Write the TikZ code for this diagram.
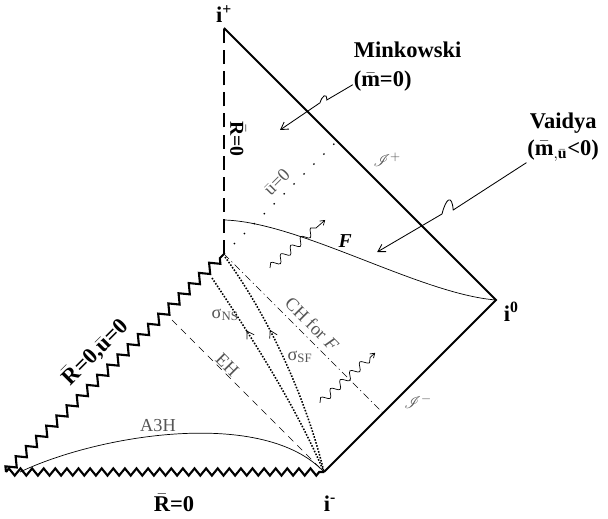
\documentclass[tikz,border=0pt]{standalone}
\usepackage{fontspec}
\setmainfont{Liberation Serif}
\usepackage{amsmath}
\usepackage{mathrsfs}
\usetikzlibrary{arrows.meta,decorations.pathmorphing,decorations.markings,calc}
\definecolor{labelgray}{HTML}{555555}

\begin{document}
\begin{tikzpicture}[
  edge/.style={line width=1.3pt},
  singleft/.style={line width=1.5pt,decorate,decoration={zigzag,segment length=3.6mm,amplitude=1.1mm}},
  singbot/.style={line width=1.5pt,decorate,decoration={zigzag,segment length=2.9mm,amplitude=0.9mm}},
  origin/.style={line width=1.2pt,dash pattern=on 10pt off 5pt},
  thinline/.style={line width=0.5pt},
  sparse/.style={line width=1pt,dash pattern=on 1pt off 9pt},
  chline/.style={line width=0.5pt,dash pattern=on 5pt off 2.5pt on 0.8pt off 2.5pt},
  ehline/.style={line width=0.5pt,dash pattern=on 5pt off 4pt},
  dense/.style={line width=1.1pt,dash pattern=on 1.1pt off 1.1pt},
  flowmark/.style={postaction={decorate},decoration={markings,
      mark=at position #1 with {\arrowreversed{Straight Barb[line width=0.5pt,length=5pt,width=6pt]}}}},
  wavy/.style={line width=0.5pt,decorate,
      decoration={snake,amplitude=0.9mm,segment length=3.3mm,post length=1.5mm},
      -{Straight Barb[length=3pt,width=4pt]}},
  pointer/.style={line width=0.6pt,-{Straight Barb[length=5pt,width=6pt]}},
  bold/.style={font=\fontsize{16}{21}\selectfont\bfseries},
  graylabel/.style={labelgray,font=\fontsize{13}{15}\selectfont},
]
  \useasboundingbox (0,0) rectangle (15.2,12.95);
  % corners of the diagram
  \coordinate (ip) at (5.6,12.25);
  \coordinate (izero) at (12.4,5.45);
  \coordinate (im) at (8.1,1.15);
  \coordinate (bl) at (0.15,1.15);
  \coordinate (zs) at (5.6,6.6);
  \coordinate (fstart) at (5.6,7.45);
  \coordinate (uend) at (8.5,9.5);
  \coordinate (chend) at (9.575,2.625);
  \coordinate (ehstart) at (4.3,4.95);

  % boundaries
  \draw[edge] (ip) -- (izero) -- (im);
  \draw[singleft] (bl) -- (zs);
  \draw[singbot] (bl) -- (im);
  \draw[origin] (zs) -- (ip);

  % interior lines
  \draw[thinline] (fstart) .. controls (7.5,7.4) and (10.5,5.6) .. (izero);
  \draw[sparse] (zs) -- (uend);
  \draw[chline] (zs) -- (chend);
  \draw[ehline] (ehstart) -- (im);
  \draw[dense,flowmark=0.28] (5.3,6.0) .. controls (6.1,4.8) and (7.3,3.0) .. (im);
  \draw[dense,flowmark=0.36] (5.625,6.525) .. controls (6.6,5.2) and (7.6,3.2) .. (im);
  \draw[thinline] (0.5,1.15) .. controls (2.5,2.1) and (6.6,2.75) .. (im);

  % radiation
  \coordinate (wa) at (6.75,6.25);
  \coordinate (wb) at (8.13,7.45);
  \coordinate (wc) at (8.0,2.88);
  \coordinate (wd) at (9.38,4.13);
  \draw[wavy] (wa) -- (wb);
  \draw[wavy] (wc) -- (wd);

  % labels
  \node[bold] (iplus) at (5.6,12.6) {i\textsuperscript{+}};
  \node[bold] (izerolab) at (12.78,5.15) {i\textsuperscript{0}};
  \node[bold] (iminus) at (8.25,0.35) {i\textsuperscript{-}};
  \node[bold] (rbot) at (4.35,0.38) {$\bar{\textbf{R}}$=0};
  \node[bold,rotate=45] (rsing) at (2.37,4.15) {$\bar{\textbf{R}}$=0,$\bar{\textbf{u}}$=0};
  \node[bold,font=\fontsize{14}{17}\selectfont\bfseries,rotate=-90] (rax) at (5.95,9.47) {$\bar{\textbf{R}}$=0};
  \node[graylabel,rotate=45] (ulab) at (6.92,8.4) {$\bar{\text{u}}$=0};
  \node[font=\fontsize{14}{16}\selectfont\bfseries\itshape] (flab) at (8.63,6.92) {F};
  \node[graylabel,rotate=-45] (chlab) at (7.8,4.85) {CH for \textit{F}};
  \node[graylabel,rotate=-45] (ehlab) at (5.68,3.83) {EH};
  \node[graylabel] (nslab) at (5.63,5.08) {σ\textsubscript{NS}};
  \node[graylabel] (sflab) at (7.5,4.03) {σ\textsubscript{SF}};
  \node[graylabel] (ahlab) at (3.95,2.3) {A3H};
  \node[graylabel] (scriplus) at (9.68,8.95) {$\mathscr{I}^{+}$};
  \node[graylabel] (scriminus) at (10.45,2.9) {$\mathscr{I}^{-}$};

  \node[bold,align=left,anchor=west] (mink) at (8.72,11.28) {Minkowski\\($\bar{\textbf{m}}$=0)};
  \node[bold,align=center] (vaidya) at (14.08,9.52) {Vaidya\\[-2pt]($\bar{\textbf{m}}_{,\bar{\textbf{u}}}$<0)};

  % pointers
  \coordinate (minkpt) at (7.0,9.7);
  \coordinate (vaidpt) at (9.43,6.65);
  \draw[pointer] ([shift={(0.1,0.3)}]mink.south west) -- (8.17,10.45) .. controls (8.17,10.65) and (8.05,10.55) .. (8.0,10.38) -- (minkpt);
  \draw[pointer] ([shift={(0.1,0.1)}]vaidya.south west) -- (11.33,7.7) .. controls (11.3,8.1) and (11.15,8.0) .. (11.05,7.6) -- (vaidpt);
\end{tikzpicture}
\end{document}
